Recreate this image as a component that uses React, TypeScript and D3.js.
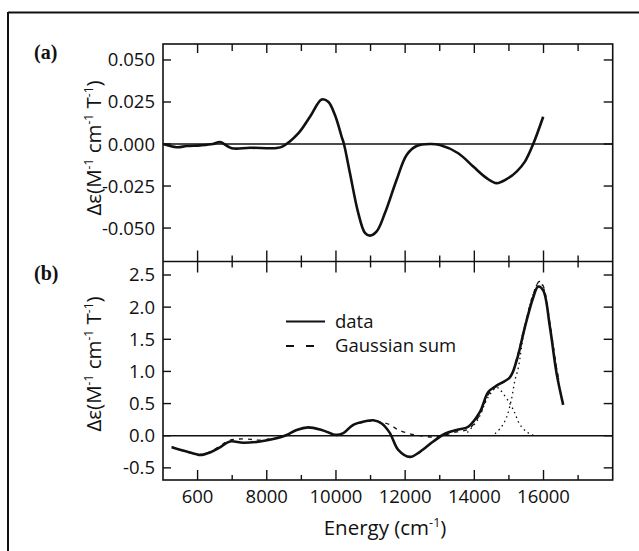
import React from "react";
import * as d3 from "d3";

// ---- Data ----
const xTickValues = [6000, 8000, 10000, 12000, 14000, 16000];
const xTickLabels = ["600", "8000", "10000", "12000", "14000", "16000"];
const xMinorTicks = [6000, 7000, 8000, 9000, 10000, 11000, 12000, 13000, 14000, 15000, 16000, 17000];

const aTicks = [0.05, 0.025, 0, -0.025, -0.05];
const aTickLabels = ["0.050", "0.025", "0.000", "-0.025", "-0.050"];
const bTicks = [2.5, 2.0, 1.5, 1.0, 0.5, 0.0, -0.5];
const bTickLabels = ["2.5", "2.0", "1.5", "1.0", "0.5", "0.0", "-0.5"];

// panel (a) MCD data
const aEnergy = [5000, 5396, 5685, 6069, 6445, 6647, 6986, 7515, 8286, 8477, 8910, 9249, 9587, 9777, 9971, 10165, 10231, 10405, 10645, 10838, 10983, 11177, 11416, 11754, 12043, 12332, 12717, 13006, 13535, 13968, 14356, 14645, 14934, 15223, 15462, 15702, 15991];
const aValue = [0.0, -0.0019, -0.0012, -0.0008, 0.0, 0.0012, -0.0025, -0.0022, -0.0024, -0.0012, 0.0063, 0.0162, 0.0265, 0.0251, 0.0172, 0.0043, 0.0, -0.0174, -0.0411, -0.0529, -0.0545, -0.052, -0.0411, -0.0213, -0.0065, -0.0012, 0.0, -0.0006, -0.0055, -0.0134, -0.0203, -0.0233, -0.0209, -0.0164, -0.0105, 0.0, 0.0162];

// panel (b) data
const bEnergy = [5251, 5974, 6069, 6358, 6647, 6936, 7321, 7803, 8286, 8575, 8864, 9199, 9587, 10020, 10211, 10500, 10887, 11078, 11321, 11561, 11800, 12139, 12428, 12812, 13150, 13489, 13824, 14162, 14402, 14645, 15029, 15223, 15462, 15702, 15846, 15991, 16185, 16378, 16569];
const bValue = [-0.18, -0.29, -0.3, -0.26, -0.18, -0.09, -0.11, -0.09, -0.04, 0.01, 0.09, 0.13, 0.09, 0.01, 0.04, 0.17, 0.23, 0.24, 0.19, 0.04, -0.22, -0.33, -0.25, -0.09, 0.03, 0.09, 0.14, 0.37, 0.68, 0.78, 0.91, 1.17, 1.69, 2.15, 2.32, 2.26, 1.69, 0.97, 0.48];

// Gaussian sum
const gEnergy = [5251, 5974, 6358, 6647, 6936, 7321, 7600, 7803, 8286, 8575, 8864, 9199, 9587, 10020, 10211, 10500, 10887, 11078, 11321, 11561, 11800, 12139, 12428, 12812, 13150, 13489, 13824, 14162, 14402, 14645, 15029, 15223, 15462, 15702, 15880, 15991, 16185, 16378, 16450];
const gValue = [-0.17, -0.29, -0.25, -0.16, -0.07, -0.05, -0.06, -0.07, -0.03, 0.01, 0.09, 0.12, 0.09, 0.02, 0.04, 0.16, 0.22, 0.23, 0.21, 0.17, 0.09, 0.03, 0.0, -0.02, 0.01, 0.06, 0.1, 0.33, 0.64, 0.77, 0.9, 1.2, 1.72, 2.2, 2.4, 2.33, 1.75, 1.05, 0.85];

// individual Gaussian components (dotted)
const c1Energy = [13800, 14100, 14400, 14650, 14750, 15029, 15173, 15298, 15511, 15700];
const c1Value = [0.05, 0.25, 0.6, 0.75, 0.71, 0.5, 0.35, 0.19, 0.06, 0.01];
const c2Energy = [14600, 14789, 14934, 15078, 15173, 15269, 15462, 15702, 15880, 16000, 16185, 16378, 16450];
const c2Value = [0.03, 0.14, 0.29, 0.58, 0.86, 1.05, 1.7, 2.2, 2.4, 2.3, 1.72, 1.05, 0.85];

const legendLabels = ["data", "Gaussian sum"];

// ---- Layout ----
const W = 639, H = 551;
const X0 = 163, X1 = 612.7;
const A_TOP = 44, MID = 261.5, B_BOT = 480;
const FONT = "'Open Sans', 'DejaVu Sans', sans-serif";

const x = d3.scaleLinear().domain([5000, 18000]).range([X0, X1]);
const ya = d3.scaleLinear().domain([-0.0699, 0.0595]).range([MID, A_TOP]);
const yb = d3.scaleLinear().domain([-0.689, 2.71]).range([B_BOT, MID]);

function pathOf(xs: number[], ys: number[], yScale: d3.ScaleLinear<number, number>) {
  const pts = xs.map((v, i) => [v, ys[i]] as [number, number]);
  return d3
    .line<[number, number]>()
    .x((d) => x(d[0]))
    .y((d) => yScale(d[1]))
    .curve(d3.curveCatmullRom.alpha(0.5))(pts) as string;
}

export default function App() {
  const stroke = "#111";
  return (
    <svg
      width={W}
      height={H}
      style={{ position: "absolute", left: 0, top: 0, background: "#fff" }}
      fontFamily={FONT}
      fontWeight={500}
    >
      <rect x={0} y={0} width={W} height={H} fill="#fff" />
      {/* outer frame */}
      <line x1={8} y1={12.5} x2={W} y2={12.5} stroke={stroke} strokeWidth={2} />
      <line x1={8} y1={12} x2={8} y2={H} stroke={stroke} strokeWidth={2} />

      {/* panel boxes */}
      <rect x={X0} y={A_TOP} width={X1 - X0} height={B_BOT - A_TOP} fill="none" stroke={stroke} strokeWidth={1.6} />
      <line x1={X0} y1={MID} x2={X1} y2={MID} stroke={stroke} strokeWidth={1.6} />

      {/* zero lines */}
      <line x1={X0} y1={ya(0)} x2={X1} y2={ya(0)} stroke={stroke} strokeWidth={1.4} />
      <line x1={X0} y1={yb(0)} x2={X1} y2={yb(0)} stroke={stroke} strokeWidth={1.4} />

      {/* x ticks: top, middle, bottom */}
      {xMinorTicks.map((t) => {
        const major = t % 2000 === 0;
        const px = x(t);
        return (
          <g key={"xt" + t} stroke={stroke} strokeWidth={1.4}>
            <line x1={px} y1={A_TOP} x2={px} y2={A_TOP + (major ? 9 : 7)} />
            <line x1={px} y1={MID - (major ? 11 : 6)} x2={px} y2={MID + (major ? 11 : 6)} />
            <line x1={px} y1={B_BOT} x2={px} y2={B_BOT - (major ? 10 : 5)} />
          </g>
        );
      })}
      {xTickValues.map((t, i) => (
        <text key={"xl" + t} x={x(t)} y={502.5} textAnchor="middle" fontSize={18.5} fill={stroke}>
          {xTickLabels[i]}
        </text>
      ))}

      {/* y ticks panel a */}
      {aTicks.map((t, i) => (
        <g key={"ya" + i}>
          <line x1={X0} y1={ya(t)} x2={X0 + 8} y2={ya(t)} stroke={stroke} strokeWidth={1.4} />
          <line x1={X1} y1={ya(t)} x2={X1 - 9} y2={ya(t)} stroke={stroke} strokeWidth={1.4} />
          <text x={155} y={ya(t) + 6.5} textAnchor="end" fontSize={18.5} fill={stroke}>
            {aTickLabels[i]}
          </text>
        </g>
      ))}
      {/* y ticks panel b */}
      {bTicks.map((t, i) => (
        <g key={"yb" + i}>
          <line x1={X0} y1={yb(t)} x2={X0 + 8} y2={yb(t)} stroke={stroke} strokeWidth={1.4} />
          <line x1={X1} y1={yb(t)} x2={X1 - 9} y2={yb(t)} stroke={stroke} strokeWidth={1.4} />
          <text x={155} y={yb(t) + 6.5} textAnchor="end" fontSize={18.5} fill={stroke}>
            {bTickLabels[i]}
          </text>
        </g>
      ))}

      {/* axis titles */}
      {[148, 364].map((cy, i) => (
        <text
          key={"yt" + i}
          transform={`translate(101,${cy}) rotate(-90)`}
          textAnchor="middle"
          fontSize={20.5}
          fill={stroke}
        >
          Δε(M<tspan fontSize={12} dy={-8}>-1</tspan>
          <tspan dy={8}> cm</tspan>
          <tspan fontSize={12} dy={-8}>-1</tspan>
          <tspan dy={8}> T</tspan>
          <tspan fontSize={12} dy={-8}>-1</tspan>
          <tspan dy={8}>)</tspan>
        </text>
      ))}
      <text x={385} y={535} textAnchor="middle" fontSize={20.5} fill={stroke}>
        Energy (cm<tspan fontSize={12.5} dy={-8}>-1</tspan>
        <tspan dy={8}>)</tspan>
      </text>

      {/* panel labels */}
      <text x={34} y={59} fontFamily="'Liberation Serif', serif" fontWeight="bold" fontSize={20} fill={stroke}>
        (a)
      </text>
      <text x={34} y={280} fontFamily="'Liberation Serif', serif" fontWeight="bold" fontSize={20} fill={stroke}>
        (b)
      </text>

      {/* curves */}
      <path d={pathOf(aEnergy, aValue, ya)} fill="none" stroke={stroke} strokeWidth={2.6} />
      <path d={pathOf(c1Energy, c1Value, yb)} fill="none" stroke={stroke} strokeWidth={1.3} strokeDasharray="1.5,3.5" />
      <path d={pathOf(c2Energy, c2Value, yb)} fill="none" stroke={stroke} strokeWidth={1.3} strokeDasharray="1.5,3.5" />
      <path d={pathOf(gEnergy, gValue, yb)} fill="none" stroke={stroke} strokeWidth={1.3} strokeDasharray="4,5" />
      <path d={pathOf(bEnergy, bValue, yb)} fill="none" stroke={stroke} strokeWidth={2.6} />

      {/* legend */}
      <line x1={286} y1={321.5} x2={325} y2={321.5} stroke={stroke} strokeWidth={2} />
      <text x={335} y={328} fontSize={18.5} fill={stroke}>{legendLabels[0]}</text>
      <line x1={286} y1={346} x2={325} y2={346} stroke={stroke} strokeWidth={2} strokeDasharray="8,12" />
      <text x={335} y={352} fontSize={18.5} fill={stroke}>{legendLabels[1]}</text>
    </svg>
  );
}
